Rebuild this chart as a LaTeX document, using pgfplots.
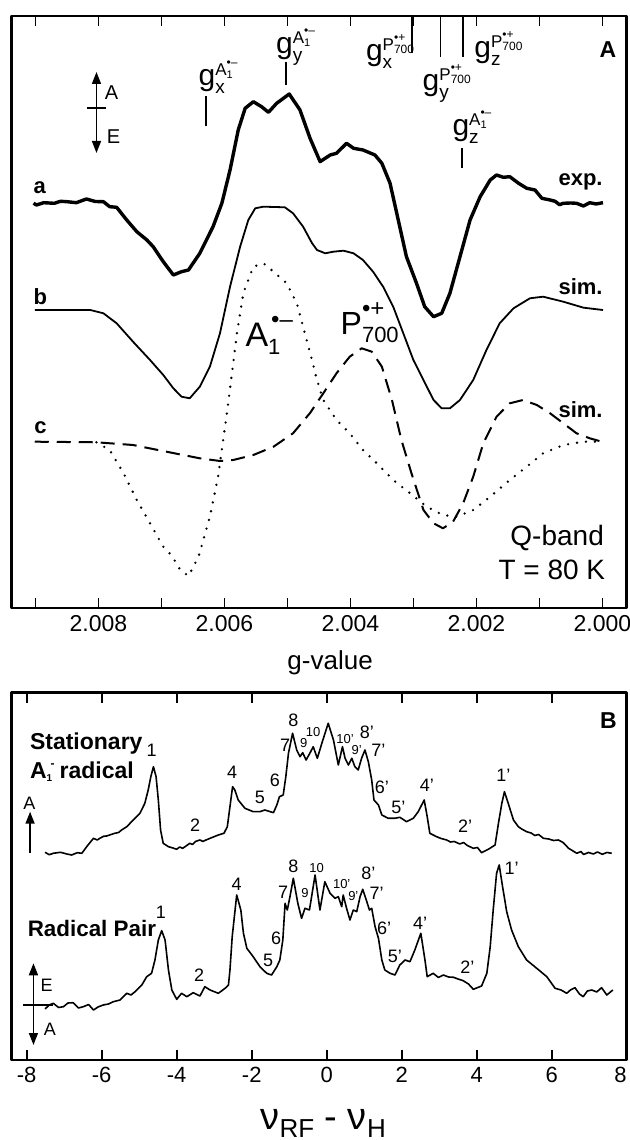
\documentclass[border=0pt]{standalone}
\usepackage{fontspec}
\setmainfont{Liberation Sans}
\usepackage{pgfplots}
\pgfplotsset{compat=1.18}
\usetikzlibrary{arrows.meta}

% g-tensor labels
\newcommand{\gA}[1]{{\fontsize{15}{15}\selectfont g}\rlap{\raisebox{-4pt}{\fontsize{9.5}{10}\selectfont #1}}\raisebox{5pt}{\fontsize{8.5}{9}\selectfont A\rlap{\raisebox{-1.5pt}{\fontsize{5.5}{6}\selectfont 1}}\raisebox{4.5pt}{\fontsize{6}{6}\selectfont •–}}}
\newcommand{\gP}[1]{{\fontsize{15}{15}\selectfont g}\rlap{\raisebox{-4pt}{\fontsize{9.5}{10}\selectfont #1}}\raisebox{5pt}{\fontsize{8.5}{9}\selectfont P\rlap{\raisebox{-1.5pt}{\fontsize{6}{6}\selectfont 700}}\raisebox{4.5pt}{\fontsize{6}{6}\selectfont •+}}}
\newcommand{\Arad}{{\fontsize{17}{17}\selectfont A}\rlap{\raisebox{-4pt}{\fontsize{11}{11}\selectfont 1}}\hspace{1.5pt}\raisebox{9.5pt}{\fontsize{12}{12}\selectfont •–}}
\newcommand{\Prad}{{\fontsize{16}{16}\selectfont P}\rlap{\raisebox{-4pt}{\fontsize{11}{11}\selectfont 700}}\raisebox{9pt}{\fontsize{12}{12}\selectfont •+}}

\pgfplotsset{
  panel/.style={
    scale only axis, anchor=south west, clip=false, no markers,
    ytick=\empty, tick align=inside, major tick length=5pt,
    every tick/.style={black,line width=0.8pt},
    axis line style={line width=1.3pt},
    line join=round,
  },
}
\tikzset{
  big/.style={font=\fontsize{9}{10}\selectfont},
  small/.style={font=\fontsize{6.5}{7}\selectfont},
}

\begin{document}
\begin{tikzpicture}
\useasboundingbox (0,0) rectangle (315pt,570pt);

% ---------------- panel A : EPR, g-value (offset (g-2)*1000) ----------------
\begin{axis}[panel,
  at={(5.85pt,266pt)}, width=307.4pt, height=296pt,
  xmin=-0.383, xmax=9.376, x dir=reverse,
  ymin=0, ymax=592,
  xtick={0,1,2,3,4,5,6,7,8,9},
  xticklabels={2.000\hspace{5pt},,2.002,,2.004,,2.006,,2.008,},
  tick label style={font=\fontsize{11.5}{14}\selectfont},
  xlabel={g-value},
  every axis x label/.style={at={(axis description cs:0.5,0)},anchor=center,
    yshift=-27.5pt,xshift=5.5pt,font=\fontsize{13}{15}\selectfont},
]
% a: experiment
\addplot[black,line width=1.7pt] coordinates {
(9.03,404.7) (8.98,403) (8.87,405.3) (8.70,404.7) (8.60,406.7) (8.50,406.3)
(8.35,405.3) (8.19,409) (8.05,406.5) (7.92,406.3) (7.82,401.3) (7.71,400.7)
(7.55,388) (7.39,376.3) (7.23,368) (7.13,361.3) (6.97,346.3) (6.81,333)
(6.68,336.3) (6.57,338) (6.39,354.7) (6.18,381.3) (6.04,404.7) (5.91,438)
(5.78,478) (5.67,499.7) (5.54,506.3) (5.41,501.3) (5.30,495.7) (5.17,504.7)
(4.97,514) (4.80,498) (4.64,469.7) (4.48,446.3) (4.32,453) (4.22,454.7)
(4.06,464.7) (3.95,459.7) (3.80,458) (3.61,453) (3.50,444.7) (3.37,424.7)
(3.24,388) (3.11,351.3) (2.95,324.7) (2.82,301.3) (2.68,291.3) (2.55,294.7)
(2.42,314.7) (2.26,351.3) (2.10,388) (1.94,411.3) (1.78,428) (1.68,433)
(1.57,430.7) (1.47,431.3) (1.33,424.7) (1.20,419.7) (1.07,418) (0.96,409.7)
(0.83,408) (0.75,406.7) (0.68,403.3) (0.62,404.7) (0.50,405) (0.41,404.7)
(0.30,402) (0.20,405.3) (0.10,404) (-0.01,405.3)
};
% b: simulation
\addplot[black,line width=0.9pt] coordinates {
(9.01,298) (8.13,298) (7.92,294.7) (7.71,284.7) (7.45,266.3) (7.18,248)
(6.97,233) (6.81,219.7) (6.68,211.3) (6.55,209.7) (6.39,221.3) (6.23,241.3)
(6.07,274.7) (5.91,321.3) (5.75,361.3) (5.62,388) (5.51,399.7) (5.38,401.3)
(5.04,400.7) (4.91,394.7) (4.75,381.3) (4.61,365) (4.53,358) (4.40,354.7)
(4.27,356.3) (4.11,357.3) (3.95,354.7) (3.80,348) (3.64,336.3) (3.48,321.3)
(3.32,301.3) (3.16,274.7) (3.00,248) (2.84,228) (2.68,208) (2.55,199.7)
(2.42,199.7) (2.26,208) (2.05,228) (1.84,258) (1.63,284.7) (1.41,299.7)
(1.15,309.7) (0.94,311.3) (0.62,306.3) (0.30,300.3) (-0.01,298)
};
% c: P700 simulation (dashed)
\addplot[black,line width=1pt,dash pattern=on 7pt off 4pt] coordinates {
(9.01,166.3) (8.03,165.7) (7.45,163) (6.92,156.3) (6.39,149.7) (6.07,147)
(5.86,148) (5.54,153) (5.22,161.3) (4.91,174.7) (4.64,195) (4.43,214.7)
(4.22,234.7) (4.01,251.3) (3.82,259.7) (3.66,256.3) (3.50,241.3) (3.34,208)
(3.19,168) (3.03,134.7) (2.84,98) (2.68,84.7) (2.53,79.7) (2.37,86.3)
(2.21,104.7) (2.05,131.3) (1.89,164.7) (1.68,191.3) (1.47,204.7) (1.26,208)
(1.04,203) (0.83,194.7) (0.62,184.7) (0.41,174.7) (0.20,169.7) (0.01,166.3)
};
% c: A1 simulation (dotted)
\addplot[black,line width=1.3pt,line cap=round,dash pattern=on 0pt off 4.5pt] coordinates {
(8.03,165.7) (7.82,158) (7.60,134.7) (7.39,108) (7.18,84.7) (6.97,61.3)
(6.83,52) (6.70,38) (6.57,32) (6.41,51.3) (6.23,91.3) (6.10,131.3)
(5.96,194.7) (5.88,234.7) (5.80,274.7) (5.70,314.7) (5.54,341.3) (5.38,344.7)
(5.22,336.3) (5.01,324.7) (4.85,304.7) (4.75,281.3) (4.61,248) (4.53,228)
(4.43,208) (4.22,188) (4.01,174.7) (3.80,158) (3.58,144.7) (3.32,128)
(3.05,114.7) (2.79,101.3) (2.53,93) (2.31,91.3) (2.05,98) (1.78,111.3)
(1.47,128) (1.20,141.3) (0.94,154.7) (0.62,163) (0.30,166.3) (0.01,166.3)
};
% g-tensor markers
\draw[line width=0.8pt] (axis cs:6.29,482) -- (axis cs:6.29,512);
\draw[line width=0.8pt] (axis cs:5.02,523) -- (axis cs:5.02,546);
\draw[line width=0.8pt] (axis cs:3.02,555) -- (axis cs:3.02,592);
\draw[line width=0.8pt] (axis cs:2.57,551) -- (axis cs:2.57,592);
\draw[line width=0.8pt] (axis cs:2.21,551) -- (axis cs:2.21,592);
\draw[line width=0.8pt] (axis cs:2.23,440) -- (axis cs:2.23,460);
\node at (axis cs:6.10,531) {\gA{x}};
\node at (axis cs:4.87,561) {\gA{y}};
\node at (axis cs:3.44,556) {\gP{x}};
\node at (axis cs:2.54,524) {\gP{y}};
\node at (axis cs:1.72,559) {\gP{z}};
\node at (axis cs:2.07,481) {\gA{z}};
% polarisation arrow
\draw[line width=0.8pt,{Triangle[length=6pt,width=4.5pt]}-{Triangle[length=6pt,width=4.5pt]}]
  (axis cs:8.03,455) -- (axis cs:8.03,536);
\draw[line width=0.8pt] (axis cs:8.18,500) -- (axis cs:7.88,500);
\node[font=\fontsize{10}{11}\selectfont] at (axis cs:7.79,515) {A};
\node[font=\fontsize{10}{11}\selectfont] at (axis cs:7.76,471) {E};
% trace labels
\node[font=\fontsize{11}{12}\bfseries] at (axis cs:8.93,420) {a};
\node[font=\fontsize{11}{12}\bfseries] at (axis cs:8.92,311) {b};
\node[font=\fontsize{11}{12}\bfseries] at (axis cs:8.92,180) {c};
\node[anchor=east,font=\fontsize{11}{12}\bfseries,inner sep=0pt] at (axis cs:-0.01,426) {exp.};
\node[anchor=east,font=\fontsize{11}{12}\bfseries,inner sep=0pt] at (axis cs:-0.01,321) {sim.};
\node[anchor=east,font=\fontsize{11}{12}\bfseries,inner sep=0pt] at (axis cs:-0.01,198) {sim.};
\node[anchor=base west,inner sep=0pt] at (axis cs:5.67,261) {\Arad};
\node[anchor=base west,inner sep=0pt] at (axis cs:4.16,273) {\Prad};
\node[font=\fontsize{11.5}{12}\bfseries] at (axis cs:-0.09,558) {A};
\node[anchor=east,font=\fontsize{14}{16}\selectfont,inner sep=0pt] at (axis cs:-0.03,70) {Q-band};
\node[anchor=east,font=\fontsize{14}{16}\selectfont,inner sep=0pt] at (axis cs:-0.05,38) {T = 80 K};
\end{axis}

% ---------------- panel B : ENDOR ----------------
\begin{axis}[panel,
  at={(5.85pt,40pt)}, width=307.5pt, height=183.65pt,
  xmin=-8.4, xmax=8, ymin=0, ymax=367.3,
  xtick={-8,-6,-4,-2,0,2,4,6,8},
  xticklabels={-8,-6,-4,-2,0,2,4,6,\llap{8}},
  tick label style={font=\fontsize{11}{13}\selectfont},
  xlabel={ν\raisebox{-4pt}{\fontsize{13}{14}\selectfont RF} - ν\raisebox{-4pt}{\fontsize{13}{14}\selectfont H}},
  every axis x label/.style={at={(axis description cs:0.5,0)},anchor=center,
    yshift=-31.5pt,xshift=2pt,font=\fontsize{19}{21}\selectfont},
]
% stationary A1- radical
\addplot[black,line width=0.8pt] coordinates {
(-7.51,207.7) (-7.40,205.3) (-7.29,206.7) (-7.10,207.7) (-6.93,206) (-6.80,205)
(-6.65,207.3) (-6.53,206.7) (-6.40,213.3) (-6.22,221.7) (-6.12,220) (-6.05,221.7)
(-5.95,223.7) (-5.87,224) (-5.75,225.5) (-5.65,226.7) (-5.55,227.5) (-5.47,230)
(-5.33,233.3) (-5.16,240) (-4.98,246.7) (-4.85,256.7) (-4.76,270) (-4.69,283.3)
(-4.62,293.3) (-4.55,283.3) (-4.49,260) (-4.43,230) (-4.36,216.7) (-4.22,213.3)
(-4.10,212) (-4.00,210.7) (-3.92,213) (-3.84,211.7) (-3.75,214) (-3.65,216.7)
(-3.58,215.5) (-3.50,218.5) (-3.38,220) (-3.30,218.5) (-3.25,219.5) (-3.11,221.7)
(-2.89,225) (-2.74,226.7) (-2.65,233.3) (-2.58,253.3)
(-2.51,273.3) (-2.45,270) (-2.36,260) (-2.18,251.7) (-1.96,248.3) (-1.78,248.3)
(-1.65,250) (-1.42,247.3) (-1.33,255) (-1.26,263.3) (-1.16,265) (-1.09,283.3)
(-1.02,306.7) (-0.91,326.7) (-0.80,310) (-0.71,303.3) (-0.64,307.3) (-0.55,300)
(-0.45,306.7) (-0.36,313.3) (-0.25,301.7) (-0.13,316.7) (0.04,336.7) (0.18,320)
(0.31,295) (0.42,313.3) (0.49,301.7) (0.58,295) (0.67,301.7) (0.75,293.3)
(0.84,290) (0.93,301.7) (1.02,310) (1.11,298.3) (1.20,280) (1.26,260)
(1.38,255) (1.47,245) (1.64,241.7) (1.82,241.7) (1.95,242.7) (2.13,238.3)
(2.31,241.7) (2.44,248.3) (2.60,260) (2.68,243.3) (2.75,226.7) (2.93,223.3)
(3.05,221.5) (3.20,220) (3.30,218) (3.40,218.5) (3.55,216) (3.65,217.5)
(3.75,214.5) (3.91,211.7) (4.02,212.5) (4.13,207.3)
(4.31,210.7) (4.49,215) (4.58,236.7) (4.67,256.7) (4.74,268.3) (4.84,256.7)
(4.98,240) (5.11,233.3) (5.20,231) (5.33,228.3) (5.45,227) (5.55,224.5)
(5.65,225.5) (5.78,221.7) (5.92,221) (6.05,219.5) (6.18,220)
(6.31,217.3) (6.45,211.7) (6.67,206.7) (6.78,208.5) (6.85,205.5) (6.98,207.5)
(7.11,206) (7.22,208) (7.35,205.7) (7.47,207.5) (7.60,206.7)
};
% radical pair
\addplot[black,line width=0.8pt] coordinates {
(-7.51,51) (-7.40,55) (-7.29,56.7) (-7.15,52.5) (-7.02,53.3) (-6.90,57) (-6.76,57.3)
(-6.62,52) (-6.49,53.3) (-6.35,55.5) (-6.22,50) (-6.10,53) (-5.96,55)
(-5.82,56) (-5.69,58.3) (-5.51,60) (-5.33,66.7) (-5.22,65) (-5.11,68.3) (-4.93,75)
(-4.80,83.3) (-4.67,86.7) (-4.58,100) (-4.49,120) (-4.40,129.3) (-4.31,120)
(-4.22,90) (-4.13,70) (-4.00,60.7) (-3.87,66.7) (-3.73,63.3) (-3.56,67.3)
(-3.38,64) (-3.25,73.3) (-3.11,70) (-2.89,66.7) (-2.71,71.7) (-2.62,75)
(-2.58,90) (-2.52,123.3) (-2.40,165) (-2.29,150) (-2.22,126.7) (-2.13,111.7)
(-1.96,103.3) (-1.78,93.3) (-1.60,86.7) (-1.47,85) (-1.33,93.3) (-1.25,100)
(-1.17,120) (-1.11,156.7) (-1.05,150) (-0.98,163.3) (-0.89,181.7) (-0.77,156.7)
(-0.67,141.7) (-0.58,151.7) (-0.46,150) (-0.31,185) (-0.18,150) (-0.05,178.3)
(0.09,166.7) (0.22,161.7) (0.31,163.3) (0.40,153.3) (0.44,165) (0.53,151.7)
(0.62,140) (0.71,150) (0.80,148.3) (0.89,163.3) (0.96,170.7) (1.07,158.3)
(1.14,150) (1.20,151.7) (1.29,133.3) (1.38,121.7) (1.47,100) (1.55,90)
(1.69,86.7) (1.82,85) (1.95,95) (2.09,100) (2.22,98.3) (2.35,110)
(2.51,126.7) (2.62,100) (2.68,83.3) (2.84,86.7) (2.98,82.5) (3.11,85) (3.25,83)
(3.38,82.7) (3.50,81) (3.64,79.3) (3.78,76) (3.91,70.7) (4.13,74) (4.27,86.7) (4.36,113.3) (4.44,150)
(4.53,186.7) (4.60,195) (4.69,173.3) (4.80,148.3) (4.93,130) (5.11,113.3)
(5.33,100) (5.60,91.7) (5.87,83.3) (6.09,71.7) (6.25,70) (6.40,66.7) (6.50,70) (6.62,72.3)
(6.74,66) (6.84,63.3) (6.95,69) (7.07,70) (7.20,68) (7.33,72.3) (7.47,65) (7.63,70)
};
% labels, upper trace
\node[anchor=base west,font=\fontsize{11.5}{12}\bfseries] at (axis cs:-8.1,310) {Stationary};
\node[anchor=base west,font=\fontsize{11.5}{12}\bfseries] at (axis cs:-8.1,281.7)
  {A\raisebox{-1.5pt}{\fontsize{5}{5}\selectfont 1}\hspace{-0.8pt}\raisebox{5.5pt}{\fontsize{6}{6}\selectfont -}\hspace{2.5pt}radical};
\node[big] at (axis cs:-4.67,310) {1};
\node[big] at (axis cs:-3.51,235) {2};
\node[big] at (axis cs:-2.52,288) {4};
\node[big] at (axis cs:-1.78,263) {5};
\node[big] at (axis cs:-1.38,280) {6};
\node[big] at (axis cs:-1.11,315) {7};
\node[big] at (axis cs:-0.89,340) {8};
\node[small] at (axis cs:-0.61,317) {9};
\node[small] at (axis cs:-0.36,328) {10};
\node[small] at (axis cs:0.49,321) {10’};
\node[small] at (axis cs:0.80,310) {9’};
\node[big] at (axis cs:1.07,328) {8’};
\node[big] at (axis cs:1.38,310) {7’};
\node[big] at (axis cs:1.47,273) {6’};
\node[big] at (axis cs:1.91,253) {5’};
\node[big] at (axis cs:2.67,275) {4’};
\node[big] at (axis cs:3.69,234) {2’};
\node[big] at (axis cs:4.71,285) {1’};
% labels, lower trace
\node[anchor=base west,font=\fontsize{11.2}{12}\bfseries] at (axis cs:-8.16,123.3) {Radical Pair};
\node[big] at (axis cs:-4.42,148) {1};
\node[big] at (axis cs:-3.40,85) {2};
\node[big] at (axis cs:-2.40,176) {4};
\node[big] at (axis cs:-1.56,100) {5};
\node[big] at (axis cs:-1.35,122) {6};
\node[big] at (axis cs:-1.16,168) {7};
\node[big] at (axis cs:-0.89,194) {8};
\node[small] at (axis cs:-0.58,167) {9};
\node[small] at (axis cs:-0.27,192) {10};
\node[small] at (axis cs:0.40,176) {10’};
\node[small] at (axis cs:0.71,164) {9’};
\node[big] at (axis cs:1.11,187) {8’};
\node[big] at (axis cs:1.33,167) {7’};
\node[big] at (axis cs:1.53,132) {6’};
\node[big] at (axis cs:1.82,104) {5’};
\node[big] at (axis cs:2.49,137) {4’};
\node[big] at (axis cs:3.75,93) {2’};
\node[big] at (axis cs:4.93,192) {1’};
\node[font=\fontsize{11.5}{12}\bfseries] at (axis cs:7.51,339.3) {B};
% polarisation arrows
\draw[line width=0.8pt,-{Triangle[length=6pt,width=4.5pt]}] (axis cs:-7.91,207) -- (axis cs:-7.91,248.3);
\node[font=\fontsize{9}{10}\selectfont] at (axis cs:-7.93,257) {A};
\draw[line width=0.8pt,{Triangle[length=6pt,width=4.5pt]}-{Triangle[length=6pt,width=4.5pt]}]
  (axis cs:-7.82,15) -- (axis cs:-7.82,96.7);
\draw[line width=0.8pt] (axis cs:-8.10,55) -- (axis cs:-7.30,55);
\node[font=\fontsize{9}{10}\selectfont] at (axis cs:-7.47,75) {E};
\node[font=\fontsize{9}{10}\selectfont] at (axis cs:-7.38,30.7) {A};
\end{axis}
\end{tikzpicture}
\end{document}
